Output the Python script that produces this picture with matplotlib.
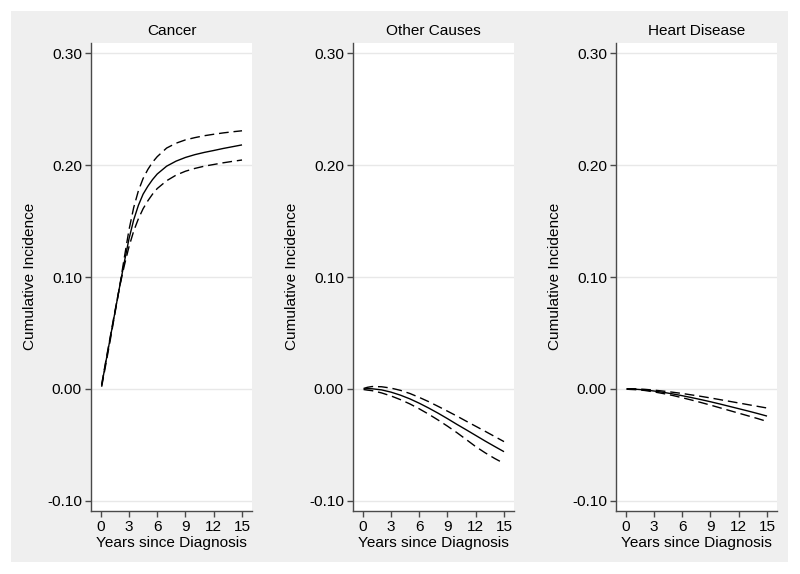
"""Cumulative incidence curves by cause of death, three panels."""

import matplotlib

matplotlib.use("Agg")
from matplotlib import pyplot as plt
from matplotlib.patches import Rectangle

plt.rcParams["font.family"] = ["Liberation Sans", "DejaVu Sans"]

# panel titles
causes = ["Cancer", "Other Causes", "Heart Disease"]

# years since diagnosis for each curve
years_cancer = [0.1, 0.5, 1, 1.5, 2, 2.5, 3, 3.5, 4, 4.5, 5, 5.5, 6, 7, 8, 9, 10, 11, 12, 13, 14, 15]
years_other = [0.1, 0.5, 1, 2, 3, 4, 5, 6, 7, 8, 9, 10, 11, 12, 13, 14, 15]

# cancer: estimate and confidence bounds
cancer_est = [0.003, 0.022, 0.045, 0.068, 0.091, 0.113, 0.134, 0.151, 0.164, 0.174, 0.181, 0.187,
              0.192, 0.199, 0.2035, 0.2068, 0.2093, 0.2113, 0.213, 0.2148, 0.2164, 0.218]
cancer_hi = [0.002, 0.020, 0.043, 0.067, 0.091, 0.117, 0.142, 0.162, 0.177, 0.188, 0.196, 0.2025,
             0.2075, 0.2152, 0.2195, 0.2225, 0.2245, 0.2262, 0.2275, 0.2287, 0.2297, 0.2306]
cancer_lo = [0.004, 0.023, 0.046, 0.069, 0.091, 0.110, 0.127, 0.141, 0.152, 0.161, 0.168, 0.174,
             0.179, 0.186, 0.191, 0.1945, 0.197, 0.199, 0.2005, 0.2020, 0.2033, 0.2045]

# other causes
other_est = [0.0, 0.0003, 0.0002, -0.0008, -0.0028, -0.0055, -0.0088, -0.0127, -0.0170, -0.0216,
             -0.0265, -0.0316, -0.0365, -0.0415, -0.0465, -0.0513, -0.0560]
other_hi = [0.0005, 0.0015, 0.0022, 0.0020, 0.0008, -0.0012, -0.0040, -0.0075, -0.0113, -0.0155,
            -0.0198, -0.0242, -0.0288, -0.0333, -0.0378, -0.0424, -0.0470]
other_lo = [-0.0005, -0.0010, -0.0015, -0.0035, -0.0062, -0.0095, -0.0133, -0.0177, -0.0225, -0.0277,
            -0.0332, -0.0390, -0.0452, -0.0515, -0.0570, -0.0620, -0.0665]

# heart disease
heart_est = [0.0, 0.0, -0.0002, -0.0008, -0.0018, -0.0030, -0.0044, -0.0060, -0.0077, -0.0095,
             -0.0114, -0.0134, -0.0155, -0.0176, -0.0197, -0.0219, -0.0242]
heart_hi = [0.0002, 0.0002, 0.0002, -0.0003, -0.0010, -0.0019, -0.0029, -0.0040, -0.0053, -0.0066,
            -0.0080, -0.0095, -0.0110, -0.0125, -0.0140, -0.0155, -0.0170]
heart_lo = [-0.0002, -0.0004, -0.0006, -0.0013, -0.0026, -0.0041, -0.0058, -0.0078, -0.0099, -0.0121,
            -0.0144, -0.0168, -0.0192, -0.0216, -0.0240, -0.0264, -0.0290]

y_ticks = [-0.10, 0.00, 0.10, 0.20, 0.30]
y_tick_labels = ["-0.10", "0.00", "0.10", "0.20", "0.30"]
x_ticks = [0, 3, 6, 9, 12, 15]

panels = [
	(years_cancer, cancer_est, cancer_hi, cancer_lo),
	(years_other, other_est, other_hi, other_lo),
	(years_other, heart_est, heart_hi, heart_lo),
]

W, H = 800, 574
fig = plt.figure(figsize=(W / 100, H / 100), dpi=100, facecolor="white")

# gray graph region behind the panels
fig.patches.append(
	Rectangle((11 / W, 12 / H), 777 / W, 551 / H, transform=fig.transFigure,
			  facecolor="#efefef", edgecolor="none", zorder=-10),
)

FS = 11.1
spine_col = "#4a4a4a"
lefts = [91, 353, 616]

for left, title, (t, est, hi, lo) in zip(lefts, causes, panels, strict=True):
	ax = fig.add_axes([left / W, 63.3 / H, 161 / W, 467.7 / H])
	ax.set_zorder(1)
	ax.set_facecolor("white")

	ax.plot(t, est, color="black", lw=1.0, solid_capstyle="butt")
	ax.plot(t, hi, color="black", lw=1.0, dashes=(7, 3.5))
	ax.plot(t, lo, color="black", lw=1.0, dashes=(7, 3.5))

	ax.set_xlim(-1.03, 16.06)
	ax.set_ylim(-0.1087, 0.309)

	ax.set_yticks(y_ticks)
	ax.set_yticklabels(y_tick_labels)
	ax.set_xticks(x_ticks)
	ax.grid(axis="y", color="#e8e8e8", lw=1.0)
	ax.set_axisbelow(True)

	for side in ("top", "right"):
		ax.spines[side].set_visible(False)
	for side in ("left", "bottom"):
		ax.spines[side].set_color(spine_col)
		ax.spines[side].set_linewidth(1.0)

	ax.tick_params(direction="out", length=4, width=1.0, color=spine_col,
				   labelsize=FS, pad=2.5)
	ax.set_ylabel("Cumulative Incidence", fontsize=FS, labelpad=7)
	ax.set_xlabel("Years since Diagnosis", fontsize=FS, labelpad=1.5)
	ax.set_title(title, fontsize=FS, pad=6)

plt.savefig("out.png", dpi=100, facecolor="white")
